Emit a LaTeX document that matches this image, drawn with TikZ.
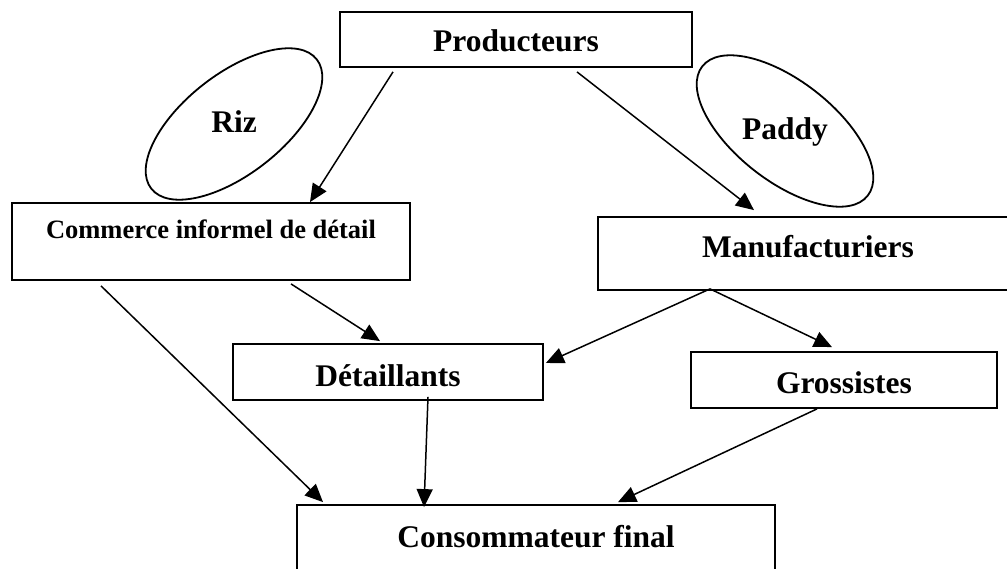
\documentclass[tikz,border=0pt]{standalone}
\usepackage{fontspec}
\setmainfont{Liberation Serif}
\usetikzlibrary{arrows.meta,shapes.geometric}

\begin{document}
\begin{tikzpicture}[x=1pt,y=-1pt,
  box/.style={draw,line width=1.8pt,inner sep=0pt,font=\bfseries\fontsize{31.5}{36}\selectfont},
  grain/.style={draw,ellipse,line width=1.8pt,minimum width=210pt,minimum height=100pt},
  flow/.style={-{Triangle[length=18pt,width=16pt]},line width=1.5pt}]
  \clip (0,0) rectangle (1007,569);

  \node[box,minimum width=352pt,text height=40pt,text depth=15pt] (prod) at (516,39.5) {Producteurs};
  \node[box,minimum width=398pt,text height=36pt,text depth=41pt,
    font=\bfseries\fontsize{26.5}{30}\selectfont] (com) at (211,241.5) {Commerce informel de détail};
  \node[box,minimum width=420pt,text height=41pt,text depth=32pt] (man) at (808,253.5) {Manufacturiers};
  \node[box,minimum width=310pt,text height=42pt,text depth=14pt] (det) at (388,372) {Détaillants};
  \node[box,minimum width=306pt,text height=41pt,text depth=15pt] (gro) at (844,380) {Grossistes};
  \node[box,minimum width=478pt,text height=42pt,text depth=53pt] (con) at (536,552.5) {Consommateur final};

  \node[grain,rotate=38] (rizring) at (234,124) {};
  \node[anchor=base,font=\bfseries\fontsize{31.5}{36}\selectfont] (riz) at (234,133) {Riz};
  \node[grain,rotate=-38] (paddyring) at (785,131) {};
  \node[anchor=base,font=\bfseries\fontsize{31.5}{36}\selectfont] (paddy) at (785,140) {Paddy};

  \draw[flow] ([xshift=-123pt,yshift=-4pt]prod.south) -- ([xshift=99pt]com.north);
  \draw[flow] ([xshift=61pt,yshift=-4pt]prod.south) -- ([xshift=-54pt,yshift=6pt]man.north);
  \draw[flow] ([xshift=80pt,yshift=-3pt]com.south) -- ([xshift=-8pt,yshift=2pt]det.north);
  \draw[flow] ([xshift=-110pt,yshift=-5pt]com.south) -- ([xshift=-213pt,yshift=2pt]con.north);
  \draw[flow] ([xshift=-98pt,yshift=2pt]man.south) -- ([xshift=2pt,yshift=9pt]det.east);
  \draw[flow] ([xshift=-98pt,yshift=2pt]man.south) -- ([xshift=-12pt,yshift=4pt]gro.north);
  \draw[flow] ([xshift=40pt,yshift=4pt]det.south) -- ([xshift=-112pt,yshift=-3pt]con.north);
  \draw[flow] ([xshift=-27pt]gro.south) -- ([xshift=82pt,yshift=2pt]con.north);
\end{tikzpicture}
\end{document}
